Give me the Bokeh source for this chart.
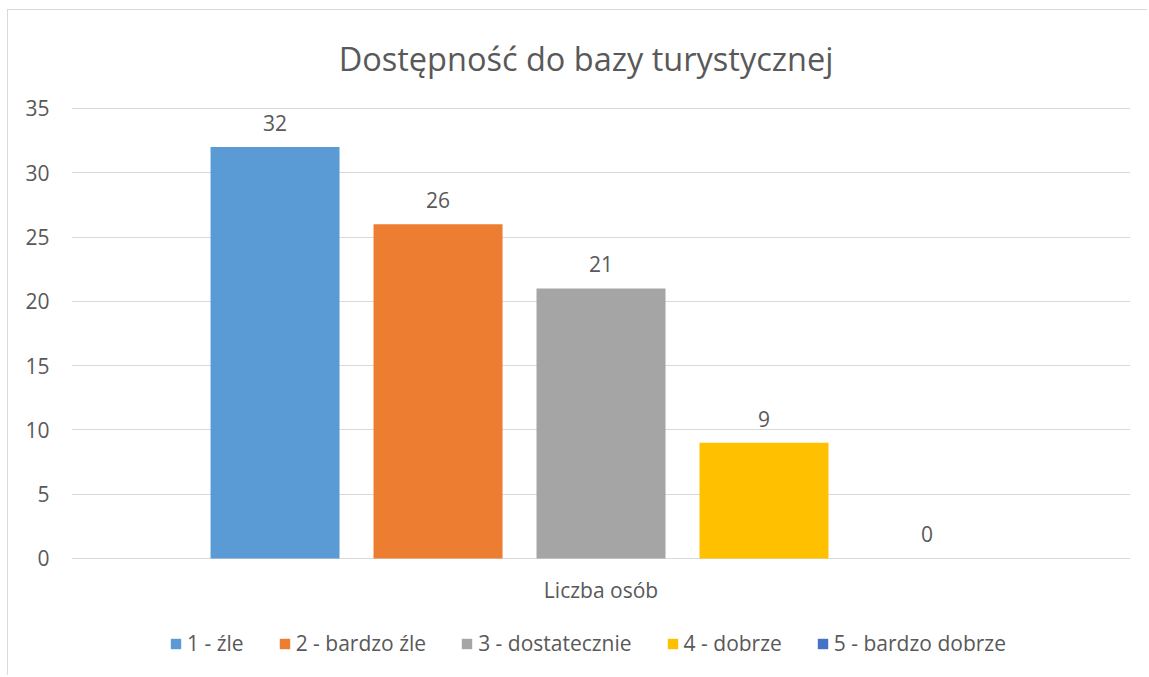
from bokeh.plotting import figure
from bokeh.models import FactorRange, Range1d, FixedTicker, Legend, ColumnDataSource
from bokeh.transform import dodge
from bokeh.core.properties import value
from bokeh.embed import file_html
from bokeh.resources import INLINE

# ---- data ----
category = ["Liczba osób"]
series_names = ["1 - źle", "2 - bardzo źle", "3 - dostatecznie", "4 - dobrze", "5 - bardzo dobrze"]
series_values = [32, 26, 21, 9, 0]
y_ticks = [0, 5, 10, 15, 20, 25, 30, 35]
title_text = "Dostępność do bazy turystycznej"

# ---- styles ----
colors = ["#5B9BD5", "#ED7D31", "#A5A5A5", "#FFC000", "#4472C4"]
FONT = "Open Sans"
TXT = "#595959"
GRID = "#D9D9D9"
SMALL = "21px"
step = 0.1539
bar_w = 0.1218
Y_MAX = 42.62   # room above the top gridline for the title
Y_MIN = -9.18   # room below the baseline for the category label and legend

p = figure(
    width=1140, height=666,
    x_range=FactorRange(factors=category, range_padding=0),
    y_range=Range1d(Y_MIN, Y_MAX),
    output_backend="svg", toolbar_location=None,
    min_border_left=63, min_border_right=18, min_border_top=0, min_border_bottom=0,
)
p.styles = {"position": "relative", "left": "7px", "top": "9px",
            "border-left": "1px solid #D9D9D9", "border-top": "1px solid #D9D9D9"}
p.outline_line_color = None
p.background_fill_color = "white"
p.border_fill_color = "white"
p.title.visible = False

# chart title
title_src = ColumnDataSource(dict(cat=category[:1], y=[Y_MAX], t=[title_text]))
p.text(x="cat", y="y", text="t", source=title_src,
       text_font=value(FONT), text_font_size="32.5px", text_color=TXT,
       text_align="center", text_baseline="middle", x_offset=-15, y_offset=48)

legend_items = []
for i, (name, val) in enumerate(zip(series_names, series_values)):
    src = ColumnDataSource(dict(cat=category, val=[val], lab=[str(val)]))
    off = (i - 2) * step
    r = p.vbar(x=dodge("cat", off, range=p.x_range), top="val", width=bar_w, bottom=0,
               source=src, fill_color=colors[i], line_color=None)
    legend_items.append((name, [r]))
    p.text(x=dodge("cat", off, range=p.x_range), y="val", text="lab", source=src,
           text_font=value(FONT), text_font_size=SMALL, text_color=TXT,
           text_align="center", text_baseline="middle", y_offset=-24)

# category (x axis) label below the baseline
cat_src = ColumnDataSource(dict(cat=category, y=[0] * len(category)))
p.text(x="cat", y="y", text="cat", source=cat_src,
       text_font=value(FONT), text_font_size=SMALL, text_color=TXT,
       text_align="center", text_baseline="middle", y_offset=32)

legend = Legend(items=legend_items, orientation="horizontal", location=(98, 19),
                label_text_font=FONT, label_text_font_size=SMALL, label_text_color=TXT,
                glyph_width=13, glyph_height=13, label_standoff=5, spacing=34,
                border_line_color=None, background_fill_alpha=0, margin=0, padding=0)
p.add_layout(legend, "center")

p.xaxis.visible = False
p.yaxis.ticker = FixedTicker(ticks=y_ticks)
p.yaxis.axis_line_color = None
p.yaxis.major_tick_line_color = None
p.yaxis.minor_tick_line_color = None
p.yaxis.major_label_text_font = FONT
p.yaxis.major_label_text_font_size = SMALL
p.yaxis.major_label_text_color = TXT
p.yaxis.major_label_standoff = 16

p.xgrid.grid_line_color = None
p.ygrid.grid_line_color = GRID
p.ygrid.grid_line_width = 1

open("out.html", "w").write(file_html(p, INLINE))
